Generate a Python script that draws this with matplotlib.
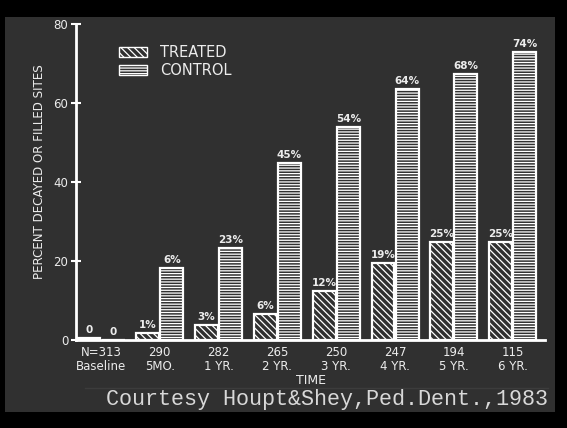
import matplotlib
matplotlib.use("Agg")
import matplotlib.pyplot as plt
from matplotlib.patches import Patch, Rectangle
import numpy as np

# values
periods = ["Baseline", "5MO.", "1 YR.", "2 YR.", "3 YR.", "4 YR.", "5 YR.", "6 YR."]
n_sites = ["N=313", "290", "282", "265", "250", "247", "194", "115"]
treated = [0.4, 1.8, 3.8, 6.6, 12.4, 19.5, 24.8, 24.8]
control = [0.0, 18.2, 23.3, 44.8, 53.9, 63.5, 67.3, 72.9]
treated_lbl = ["0", "1%", "3%", "6%", "12%", "19%", "25%", "25%"]
control_lbl = ["0", "6%", "23%", "45%", "54%", "64%", "68%", "74%"]

bg = "#303030"
fg = "#ececec"
plt.rcParams["hatch.linewidth"] = 0.9

fig = plt.figure(figsize=(5.67, 4.28), dpi=100)
fig.patch.set_facecolor("black")
# grey slide area inside the black frame
fig.patches.append(Rectangle((5/567, 16/428), 550/567, 1 - 33/428, transform=fig.transFigure,
                             facecolor=bg, edgecolor="none", zorder=-5))
fig.lines.append(plt.Line2D([85/567, 548/567], [1 - 388/428, 1 - 388/428], transform=fig.transFigure,
                            color="#3c3c3c", lw=1.0, zorder=-4))

ax = fig.add_axes([76/567, 1 - 340/428, (545 - 76)/567, (340 - 24)/428])
ax.set_facecolor("none")

x = np.arange(len(periods))
w = 0.39
off = 0.205
ax.bar(x - off, treated, w, facecolor=bg, edgecolor="white", hatch="\\\\\\\\\\", lw=1.6)
ax.bar(x + off, control, w, facecolor=bg, edgecolor="white", hatch="------", lw=1.6)

for i in range(len(periods)):
    ax.text(x[i] - off, treated[i] + 0.8, treated_lbl[i], ha="center", va="bottom",
            color=fg, fontsize=7.5, fontweight="bold")
    ax.text(x[i] + off, control[i] + 0.8, control_lbl[i], ha="center", va="bottom",
            color=fg, fontsize=7.5, fontweight="bold")

ax.set_xlim(-0.425, 7.55)
ax.set_ylim(0, 80)
ax.set_yticks([0, 20, 40, 60, 80])
ax.set_xticks(x)
ax.set_xticklabels([n + "\n" + p for n, p in zip(n_sites, periods)], color=fg, fontsize=8.5,
                   linespacing=1.1)
ax.tick_params(axis="x", length=0, pad=4)
ax.tick_params(axis="y", direction="inout", length=7, width=1.5, colors="white",
               labelcolor=fg, labelsize=8.5, pad=2)
for s in ["top", "right"]:
    ax.spines[s].set_visible(False)
for s in ["left", "bottom"]:
    ax.spines[s].set_color("white")
    ax.spines[s].set_linewidth(2)

ax.set_xlabel("TIME", color=fg, fontsize=9, labelpad=1)
fig.text(40/567, 1 - 172/428, "PERCENT DECAYED OR FILLED SITES", rotation=90, ha="center",
         va="center", color=fg, fontsize=8.6)

handles = [Patch(facecolor=bg, edgecolor="white", hatch="\\\\\\\\\\", lw=1.0),
           Patch(facecolor=bg, edgecolor="white", hatch="------", lw=1.0)]
leg = fig.legend(handles, ["TREATED", "CONTROL"], loc="upper left",
                 bbox_to_anchor=(106/567, 1 - 32/428), frameon=False, fontsize=10.5,
                 handlelength=1.9, handleheight=0.6, handletextpad=0.9, labelspacing=0.2)
for t in leg.get_texts():
    t.set_color(fg)

fig.text(548/567, 1 - 400/428, "Courtesy Houpt&Shey,Ped.Dent.,1983", ha="right", va="center",
         color="#d8d8d8", fontsize=15.7, family=["Liberation Mono", "DejaVu Sans Mono"])

fig.savefig("out.png", dpi=100, facecolor=fig.get_facecolor())
